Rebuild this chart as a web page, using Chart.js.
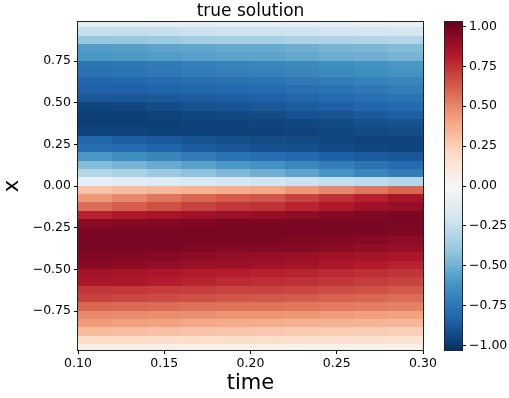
<!DOCTYPE html>
<html>
<head>
<meta charset="utf-8">
<script src="https://cdn.jsdelivr.net/npm/chart.js@4.4.1/dist/chart.umd.min.js"></script>
<style>
  html, body { margin: 0; padding: 0; background: #fff; }
  #wrap { position: relative; width: 509px; height: 398px; }
  #main { position: absolute; left: 0; top: 0; }
  #cbar { position: absolute; left: 430px; top: 0; }
</style>
</head>
<body>
<div id="wrap">
  <canvas id="main" width="509" height="398"></canvas>
  <canvas id="cbar" width="79" height="398"></canvas>
</div>
<script>
// Time slabs (cell edges) and spatial row centres of the solution grid
const timeEdges = [0.10, 0.12, 0.14, 0.16, 0.18, 0.20, 0.22, 0.24, 0.26, 0.28, 0.30];
const xCenters = [
  0.975, 0.925, 0.875, 0.825, 0.775, 0.725, 0.675, 0.625, 0.575, 0.525,
  0.475, 0.425, 0.375, 0.325, 0.275, 0.225, 0.175, 0.125, 0.075, 0.025,
  -0.025, -0.075, -0.125, -0.175, -0.225, -0.275, -0.325, -0.375, -0.425, -0.475,
  -0.525, -0.575, -0.625, -0.675, -0.725, -0.775, -0.825, -0.875, -0.925, -0.975
];

// u(t, x) for each time slab, rows ordered as xCenters
const u_t11 = [-0.12,-0.25,-0.40,-0.58,-0.60,-0.76,-0.77,-0.82,-0.84,-0.88,-0.95,-0.97,-0.97,-0.95,-0.82,-0.78,-0.60,-0.45,-0.30,-0.10,
                0.30, 0.45, 0.58, 0.80, 0.93, 0.97, 0.98, 0.98, 0.96, 0.93, 0.86, 0.84, 0.74, 0.70, 0.60, 0.50, 0.44, 0.33, 0.20, 0.06];
const u_t13 = [-0.12,-0.25,-0.39,-0.57,-0.59,-0.75,-0.76,-0.81,-0.84,-0.88,-0.94,-0.97,-0.97,-0.95,-0.85,-0.80,-0.64,-0.48,-0.33,-0.12,
                0.32, 0.50, 0.62, 0.83, 0.94, 0.97, 0.98, 0.97, 0.95, 0.92, 0.85, 0.83, 0.73, 0.69, 0.59, 0.49, 0.43, 0.32, 0.20, 0.06];
const u_t15 = [-0.11,-0.24,-0.38,-0.55,-0.58,-0.73,-0.74,-0.80,-0.83,-0.87,-0.92,-0.96,-0.97,-0.96,-0.87,-0.83,-0.68,-0.52,-0.38,-0.14,
                0.34, 0.55, 0.66, 0.85, 0.95, 0.98, 0.98, 0.97, 0.94, 0.91, 0.84, 0.81, 0.72, 0.68, 0.58, 0.48, 0.42, 0.31, 0.19, 0.06];
const u_t17 = [-0.11,-0.23,-0.36,-0.54,-0.56,-0.71,-0.72,-0.78,-0.82,-0.86,-0.90,-0.94,-0.96,-0.96,-0.89,-0.86,-0.72,-0.56,-0.42,-0.16,
                0.36, 0.60, 0.70, 0.87, 0.96, 0.98, 0.97, 0.96, 0.92, 0.89, 0.82, 0.79, 0.71, 0.66, 0.57, 0.47, 0.40, 0.30, 0.19, 0.05];
const u_t19 = [-0.10,-0.22,-0.35,-0.52,-0.55,-0.69,-0.71,-0.77,-0.81,-0.85,-0.89,-0.93,-0.96,-0.96,-0.91,-0.88,-0.76,-0.60,-0.46,-0.18,
                0.38, 0.63, 0.73, 0.89, 0.97, 0.98, 0.97, 0.95, 0.91, 0.88, 0.81, 0.77, 0.70, 0.65, 0.56, 0.46, 0.39, 0.29, 0.18, 0.05];
const u_t21 = [-0.10,-0.22,-0.35,-0.52,-0.55,-0.68,-0.70,-0.76,-0.80,-0.84,-0.88,-0.92,-0.95,-0.96,-0.92,-0.90,-0.78,-0.62,-0.50,-0.20,
                0.40, 0.65, 0.75, 0.90, 0.97, 0.98, 0.97, 0.95, 0.90, 0.87, 0.80, 0.76, 0.70, 0.64, 0.56, 0.46, 0.38, 0.28, 0.18, 0.05];
const u_t23 = [-0.09,-0.21,-0.33,-0.50,-0.53,-0.66,-0.68,-0.74,-0.78,-0.82,-0.86,-0.90,-0.94,-0.95,-0.93,-0.91,-0.81,-0.67,-0.55,-0.22,
                0.45, 0.70, 0.79, 0.92, 0.97, 0.98, 0.96, 0.94, 0.89, 0.86, 0.79, 0.75, 0.69, 0.63, 0.55, 0.45, 0.37, 0.27, 0.17, 0.05];
const u_t25 = [-0.09,-0.20,-0.32,-0.48,-0.51,-0.64,-0.66,-0.72,-0.76,-0.80,-0.84,-0.89,-0.93,-0.94,-0.94,-0.93,-0.84,-0.72,-0.61,-0.25,
                0.50, 0.75, 0.83, 0.94, 0.97, 0.97, 0.95, 0.93, 0.87, 0.84, 0.77, 0.73, 0.67, 0.61, 0.54, 0.44, 0.36, 0.26, 0.16, 0.05];
const u_t27 = [-0.08,-0.19,-0.31,-0.47,-0.50,-0.62,-0.64,-0.70,-0.74,-0.78,-0.82,-0.87,-0.91,-0.93,-0.95,-0.94,-0.86,-0.76,-0.67,-0.27,
                0.55, 0.80, 0.87, 0.96, 0.97, 0.97, 0.94, 0.91, 0.86, 0.82, 0.76, 0.72, 0.66, 0.60, 0.53, 0.43, 0.35, 0.26, 0.16, 0.05];
const u_t29 = [-0.08,-0.18,-0.30,-0.45,-0.48,-0.60,-0.62,-0.68,-0.72,-0.76,-0.80,-0.85,-0.90,-0.92,-0.95,-0.95,-0.88,-0.80,-0.72,-0.30,
                0.60, 0.85, 0.90, 0.97, 0.97, 0.96, 0.92, 0.90, 0.84, 0.80, 0.74, 0.70, 0.64, 0.58, 0.52, 0.42, 0.34, 0.25, 0.15, 0.05];
const uColumns = [u_t11, u_t13, u_t15, u_t17, u_t19, u_t21, u_t23, u_t25, u_t27, u_t29];

// Tick labels
const timeTicks = [0.10, 0.15, 0.20, 0.25, 0.30];
const xTicks = [-0.75, -0.50, -0.25, 0.00, 0.25, 0.50, 0.75];
const cbTicks = [-1.00, -0.75, -0.50, -0.25, 0.00, 0.25, 0.50, 0.75, 1.00];

// Colour normalisation and RdBu_r colormap anchors
const vMin = -1.028, vMax = 1.028;
const rdbuR = ['#053061','#2166ac','#4393c3','#92c5de','#d1e5f0','#f7f7f7','#fddbc7','#f4a582','#d6604d','#b2182b','#67001f'];
const rowHalf = 0.025;
const FONT = '"DejaVu Sans", "Liberation Sans", sans-serif';

function hexToRgb(h) {
  const n = parseInt(h.slice(1), 16);
  return [(n >> 16) & 255, (n >> 8) & 255, n & 255];
}
const anchors = rdbuR.map(hexToRgb);
function colorFor(v) {
  let t = (v - vMin) / (vMax - vMin);
  t = Math.max(0, Math.min(1, t)) * (anchors.length - 1);
  const i = Math.min(anchors.length - 2, Math.floor(t));
  const f = t - i;
  const a = anchors[i], b = anchors[i + 1];
  const c = a.map((av, k) => Math.round(av + (b[k] - av) * f));
  return `rgb(${c[0]},${c[1]},${c[2]})`;
}
const fmt = v => (Math.abs(v) < 1e-9 ? 0 : v).toFixed(2).replace('-', '\u2212');

// Flatten the grid into cell records for the dataset
const cells = [];
uColumns.forEach((col, j) => {
  col.forEach((v, i) => {
    cells.push({
      x: (timeEdges[j] + timeEdges[j + 1]) / 2, y: xCenters[i], v,
      t0: timeEdges[j], t1: timeEdges[j + 1]
    });
  });
});

const heatmapPlugin = {
  id: 'heatmap',
  beforeDatasetsDraw(chart) {
    const { ctx, chartArea: a, scales: { x, y } } = chart;
    ctx.save();
    ctx.beginPath();
    ctx.rect(a.left, a.top, a.right - a.left, a.bottom - a.top);
    ctx.clip();
    chart.data.datasets[0].data.forEach(c => {
      const x0 = Math.floor(x.getPixelForValue(c.t0));
      const x1 = Math.ceil(x.getPixelForValue(c.t1));
      const y0 = Math.floor(y.getPixelForValue(c.y + rowHalf));
      const y1 = Math.ceil(y.getPixelForValue(c.y - rowHalf));
      ctx.fillStyle = colorFor(c.v);
      ctx.fillRect(x0, y0, x1 - x0, y1 - y0);
    });
    ctx.restore();
  },
  afterDraw(chart) {
    const { ctx, chartArea: a } = chart;
    ctx.save();
    ctx.strokeStyle = '#222';
    ctx.lineWidth = 1;
    ctx.strokeRect(Math.round(a.left) - 0.5, Math.round(a.top) - 0.5,
                   Math.round(a.right - a.left) + 1, Math.round(a.bottom - a.top) + 1);
    ctx.fillStyle = '#000';
    ctx.font = `17px ${FONT}`;
    ctx.textAlign = 'center';
    ctx.textBaseline = 'middle';
    ctx.fillText('true solution', (a.left + a.right) / 2, 12);
    ctx.restore();
  }
};

new Chart(document.getElementById('main'), {
  type: 'scatter',
  data: { datasets: [{ data: cells, pointRadius: 0, showLine: false }] },
  options: {
    responsive: false, animation: false, events: [],
    layout: { padding: { left: 0, right: 86, top: 22, bottom: 0 } },
    plugins: { legend: { display: false }, tooltip: { enabled: false } },
    scales: {
      x: {
        type: 'linear', min: 0.1, max: 0.3,
        afterBuildTicks: s => { s.ticks = timeTicks.map(v => ({ value: v })); },
        afterFit: s => { s.height = 48; },
        ticks: { callback: v => fmt(v), font: { family: FONT, size: 12.5 }, color: '#000', padding: 2, maxRotation: 0, autoSkip: false },
        grid: { display: true, drawOnChartArea: false, drawTicks: true, tickLength: 4, color: '#000' },
        border: { display: true, color: '#222' },
        title: { display: true, text: 'time', font: { family: FONT, size: 21 }, color: '#000', padding: { top: 0, bottom: 2 } }
      },
      y: {
        type: 'linear', min: -0.984, max: 0.984,
        afterBuildTicks: s => { s.ticks = xTicks.map(v => ({ value: v })); },
        afterFit: s => { s.width = 78; },
        ticks: { callback: v => fmt(v), font: { family: FONT, size: 12.5 }, color: '#000', padding: 3, autoSkip: false },
        grid: { display: true, drawOnChartArea: false, drawTicks: true, tickLength: 4, color: '#000' },
        border: { display: true, color: '#222' },
        title: { display: true, text: 'x', font: { family: FONT, size: 21 }, color: '#000', padding: { top: 0, bottom: 3 } }
      }
    }
  },
  plugins: [heatmapPlugin]
});

// Colour bar drawn against its own value scale
const colorbarPlugin = {
  id: 'colorbar',
  beforeDatasetsDraw(chart) {
    const { ctx, chartArea: a, scales: { y } } = chart;
    const steps = 256;
    ctx.save();
    for (let k = 0; k < steps; k++) {
      const v0 = vMin + (vMax - vMin) * k / steps;
      const v1 = vMin + (vMax - vMin) * (k + 1) / steps;
      const yTop = y.getPixelForValue(v1), yBot = y.getPixelForValue(v0);
      ctx.fillStyle = colorFor((v0 + v1) / 2);
      ctx.fillRect(a.left, Math.floor(yTop), a.right - a.left, Math.ceil(yBot) - Math.floor(yTop));
    }
    ctx.strokeStyle = '#222';
    ctx.lineWidth = 1;
    ctx.strokeRect(Math.round(a.left) - 0.5, Math.round(a.top) - 0.5,
                   Math.round(a.right - a.left) + 1, Math.round(a.bottom - a.top) + 1);
    ctx.restore();
  }
};

new Chart(document.getElementById('cbar'), {
  type: 'scatter',
  data: { datasets: [{ data: [], pointRadius: 0 }] },
  options: {
    responsive: false, animation: false, events: [],
    layout: { padding: { left: 15, right: 0, top: 22, bottom: 48 } },
    plugins: { legend: { display: false }, tooltip: { enabled: false } },
    scales: {
      x: { display: false, min: 0, max: 1 },
      y: {
        position: 'right', min: vMin, max: vMax,
        afterBuildTicks: s => { s.ticks = cbTicks.map(v => ({ value: v })); },
        afterFit: s => { s.width = 47; },
        ticks: { callback: v => fmt(v), font: { family: FONT, size: 12.5 }, color: '#000', padding: 3, autoSkip: false },
        grid: { display: true, drawOnChartArea: false, drawTicks: true, tickLength: 4, color: '#000' },
        border: { display: false }
      }
    }
  },
  plugins: [colorbarPlugin]
});
</script>
</body>
</html>
